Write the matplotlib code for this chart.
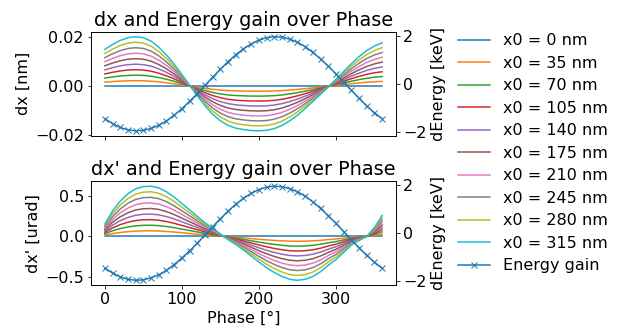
import numpy as np
import matplotlib.pyplot as plt

# phase in degrees, one sample every 10 deg
phase = list(range(0, 361, 10))

# start offsets x0 [nm], one line per value
x0_nm = [0, 35, 70, 105, 140, 175, 210, 245, 280, 315]

# energy gain [keV]
energy_kev = [-1.45, -1.65, -1.81, -1.91, -1.95, -1.93, -1.85, -1.72, -1.54, -1.30,
              -1.03, -0.73, -0.41, -0.07, 0.27, 0.60, 0.92, 1.20, 1.45, 1.65,
              1.81, 1.91, 1.95, 1.93, 1.85, 1.72, 1.54, 1.30, 1.03, 0.73,
              0.41, 0.07, -0.27, -0.60, -0.92, -1.20, -1.45]

# dx [nm] for the x0 = 315 nm line (other lines scale with x0)
dx_315 = [0.0151, 0.0171, 0.0188, 0.0199, 0.0203, 0.0199, 0.0185, 0.0160, 0.0128, 0.0090,
          0.0048, 0.0004, -0.0039, -0.0080, -0.0115, -0.0142, -0.0161, -0.0172, -0.0178, -0.0182,
          -0.0183, -0.0181, -0.0174, -0.0161, -0.0142, -0.0119, -0.0092, -0.0063, -0.0033, -0.0003,
          0.0028, 0.0060, 0.0092, 0.0121, 0.0146, 0.0165, 0.0178]

# dx' [urad] for the x0 = 315 nm line
dxp_315 = [0.152, 0.317, 0.440, 0.531, 0.593, 0.621, 0.626, 0.605, 0.556, 0.490,
           0.410, 0.330, 0.250, 0.170, 0.100, 0.030, -0.040, -0.100, -0.170, -0.245,
           -0.320, -0.390, -0.450, -0.500, -0.535, -0.547, -0.535, -0.500, -0.440, -0.360,
           -0.290, -0.200, -0.110, -0.050, 0.000, 0.110, 0.260]

plt.rcParams['font.size'] = 16

def draw():
    fig, (ax1, ax2) = plt.subplots(2, 1, sharex=True, figsize=(621 / 72, 330 / 72), dpi=72)
    fig.subplots_adjust(left=0.1465, right=0.6377, top=0.903, bottom=0.1364, hspace=0.444)

    dx = np.array(dx_315)
    dxp = np.array(dxp_315)
    for x0 in x0_nm:
        ax1.plot(phase, dx * x0 / x0_nm[-1], label='x0 = %d nm' % x0)
        ax2.plot(phase, dxp * x0 / x0_nm[-1], label='x0 = %d nm' % x0)

    ax1b = ax1.twinx()
    ax1b.plot(phase, energy_kev, marker='x', label='Energy gain')
    ax2b = ax2.twinx()
    ax2b.plot(phase, energy_kev, marker='x', label='Energy gain')

    ax1.set_title('dx and Energy gain over Phase')
    ax1.set_ylabel('dx [nm]')
    ax1.set_yticks([-0.02, 0.0, 0.02])
    ax1b.set_ylabel('dEnergy [keV]')
    ax1b.set_yticks([-2, 0, 2])

    ax2.set_title("dx' and Energy gain over Phase")
    ax2.set_ylabel("dx' [urad]")
    ax2.set_yticks([-0.5, 0.0, 0.5])
    ax2.set_xlabel('Phase [°]')
    ax2.set_xticks([0, 100, 200, 300])
    ax2b.set_ylabel('dEnergy [keV]')
    ax2b.set_yticks([-2, 0, 2])

    h1, l1 = ax2.get_legend_handles_labels()
    h2, l2 = ax2b.get_legend_handles_labels()
    fig.legend(h1 + h2, l1 + l2, loc='upper left', bbox_to_anchor=(0.7272, 0.9188),
               borderaxespad=0, frameon=False, labelspacing=0.47)

    fig.savefig('out.png', dpi=72)

draw()
